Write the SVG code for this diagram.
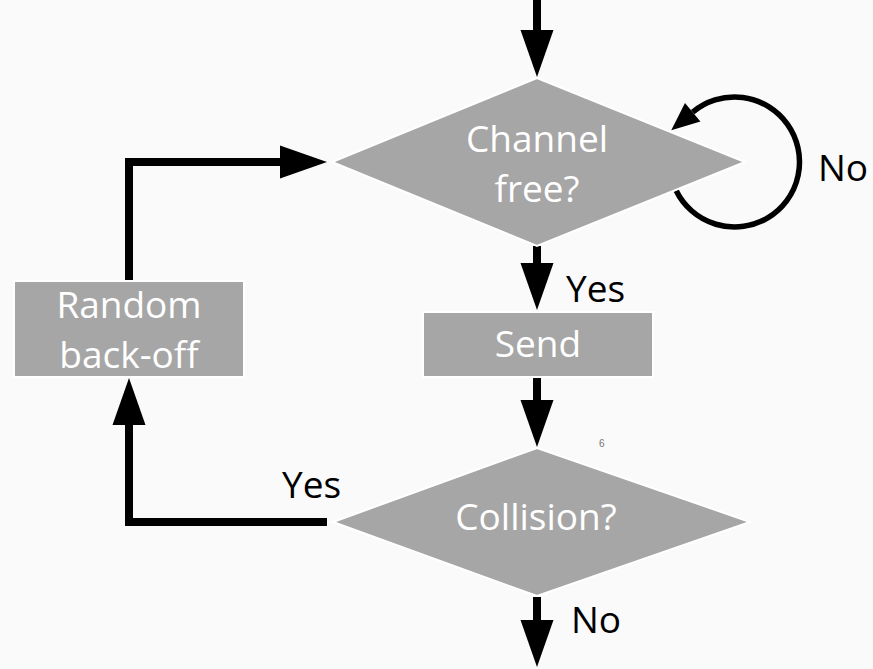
<svg xmlns="http://www.w3.org/2000/svg" width="873" height="669" viewBox="0 0 873 669">
  <style>
    .shape { fill: #a6a6a6; stroke: #ffffff; stroke-width: 2; }
    .ntext { font-family: "Open Sans", "Liberation Sans", sans-serif; font-size: 37px; fill: #ffffff; text-anchor: middle; }
    .ltext { font-family: "Open Sans", "Liberation Sans", sans-serif; font-size: 37px; fill: #000000; }
    .conn { fill: none; stroke: #000000; stroke-width: 8; }
    .loop { fill: none; stroke: #000000; stroke-width: 5.5; }
  </style>
  <defs>
    <marker id="head" markerUnits="userSpaceOnUse" markerWidth="47" markerHeight="33" refX="0" refY="16.5" orient="auto" overflow="visible">
      <path d="M0,0 L47,16.5 L0,33 Z" fill="#000000"/>
    </marker>
    <marker id="headSmall" markerUnits="userSpaceOnUse" markerWidth="28" markerHeight="24" refX="0" refY="12" orient="auto" overflow="visible">
      <path d="M0,0 L28,12 L0,24 Z" fill="#000000"/>
    </marker>
  </defs>
  <rect x="0" y="0" width="873" height="669" fill="#fafafa"/>

  <g id="connectors">
    <path class="conn" d="M537,0 V30" marker-end="url(#head)"/>
    <path class="conn" d="M537,246 V263" marker-end="url(#head)"/>
    <path class="conn" d="M537,378 V400" marker-end="url(#head)"/>
    <path class="conn" d="M537,597 V620" marker-end="url(#head)"/>
    <path class="conn" d="M327,522 H129 V425" marker-end="url(#head)"/>
    <path class="conn" d="M129,281 V162 H280" marker-end="url(#head)"/>
    <path class="loop" d="M676.1,190.5 A65,65 0 1 0 692.7,112.2" marker-end="url(#headSmall)"/>
  </g>

  <g id="channel-free">
    <polygon class="shape" points="537,78 745,162 537,246 332,162"/>
    <text class="ntext" x="537" y="152">Channel</text>
    <text class="ntext" x="537" y="202">free?</text>
  </g>

  <g id="send">
    <rect class="shape" x="423" y="312" width="230" height="65"/>
    <text class="ntext" x="538" y="357">Send</text>
  </g>

  <g id="collision">
    <polygon class="shape" points="537,448 750,522 537,596 333,522"/>
    <text class="ntext" x="536" y="530">Collision?</text>
  </g>

  <g id="random-backoff">
    <rect class="shape" x="14" y="281" width="230" height="96"/>
    <text class="ntext" x="129" y="318">Random</text>
    <text class="ntext" x="129" y="368">back-off</text>
  </g>

  <g id="labels">
    <text class="ltext" x="818" y="181">No</text>
    <text class="ltext" x="566" y="302">Yes</text>
    <text class="ltext" x="282" y="498">Yes</text>
    <text class="ltext" x="571" y="633">No</text>
    <text x="599" y="447" font-family="Liberation Sans, sans-serif" font-size="10" fill="#777777">6</text>
  </g>
</svg>
